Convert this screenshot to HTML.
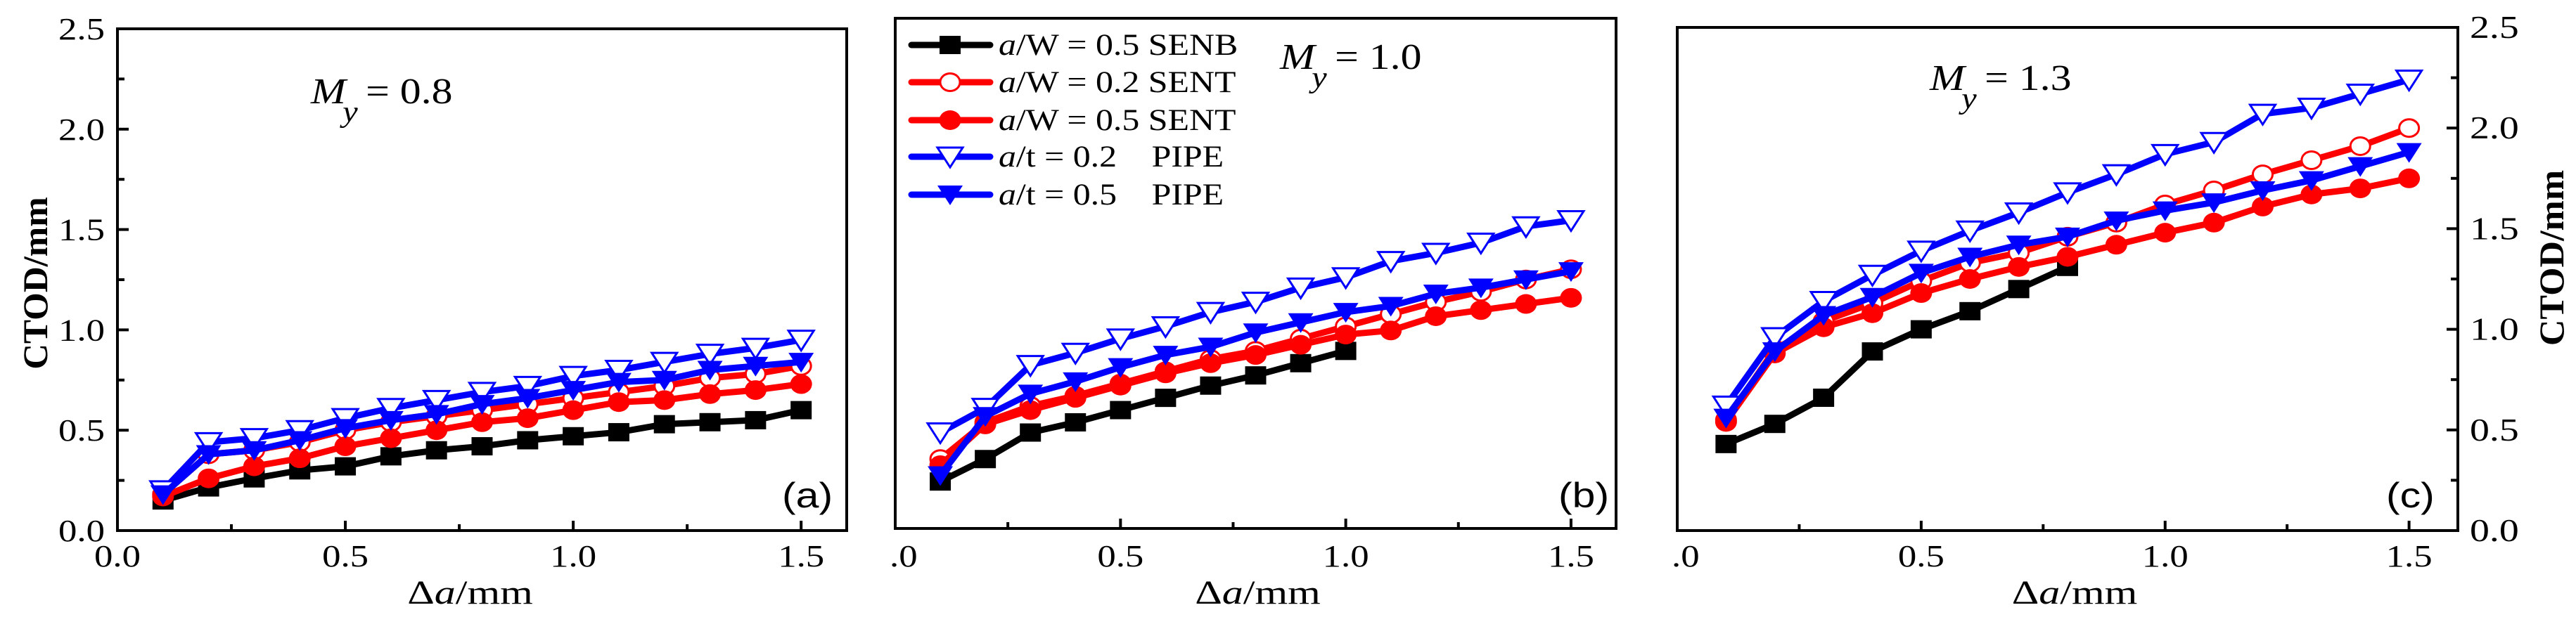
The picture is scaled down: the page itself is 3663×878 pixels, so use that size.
<!DOCTYPE html>
<html><head><meta charset="utf-8"><style>
html,body{margin:0;padding:0;background:#fff;}
svg{display:block;}
</style></head><body>
<svg id="chart" width="3663" height="878" viewBox="0 0 3663 878" xmlns="http://www.w3.org/2000/svg" font-family="'Liberation Serif', serif"></svg>
<script>
const xValues = [0.1,0.2,0.3,0.4,0.5,0.6,0.7,0.8,0.9,1.0,1.1,1.2,1.3,1.4,1.5];
const xTickLabels = ["0.0","0.5","1.0","1.5"];
const yTickLabels = ["0.0","0.5","1.0","1.5","2.0","2.5"];
const seriesNames = ["a/W = 0.5 SENB","a/W = 0.2 SENT","a/W = 0.5 SENT","a/t = 0.2 PIPE","a/t = 0.5 PIPE"];
// panel (a) My=0.8
const aSENB05 = [0.15,0.215,0.26,0.30,0.32,0.37,0.40,0.42,0.45,0.47,0.49,0.53,0.54,0.55,0.60];
const aSENT02 = [0.18,0.38,0.40,0.44,0.50,0.54,0.57,0.60,0.63,0.66,0.69,0.72,0.76,0.78,0.82];
const aSENT05 = [0.17,0.26,0.32,0.36,0.42,0.46,0.50,0.54,0.56,0.60,0.64,0.65,0.68,0.70,0.73];
const aPIPE02 = [0.20,0.44,0.46,0.50,0.56,0.61,0.65,0.69,0.72,0.77,0.80,0.84,0.88,0.91,0.95];
const aPIPE05 = [0.18,0.38,0.40,0.45,0.51,0.55,0.58,0.63,0.66,0.70,0.74,0.75,0.80,0.82,0.84];
// panel (b) My=1.0
const bSENB05 = [0.23,0.34,0.47,0.52,0.58,0.64,0.70,0.75,0.81,0.87];
const bSENT02 = [0.34,0.52,0.60,0.65,0.71,0.77,0.83,0.87,0.93,0.99,1.05,1.11,1.16,1.22,1.27];
const bSENT05 = [0.31,0.51,0.58,0.64,0.70,0.76,0.81,0.85,0.90,0.95,0.97,1.04,1.07,1.10,1.13];
const bPIPE02 = [0.47,0.59,0.80,0.86,0.93,0.99,1.06,1.11,1.18,1.23,1.31,1.35,1.40,1.48,1.51];
const bPIPE05 = [0.26,0.55,0.66,0.72,0.79,0.85,0.89,0.96,1.01,1.06,1.09,1.15,1.18,1.22,1.26];
// panel (c) My=1.3
const cSENB05 = [0.43,0.53,0.66,0.89,1.00,1.09,1.20,1.31];
const cSENT02 = [0.55,0.90,1.04,1.13,1.24,1.33,1.38,1.46,1.53,1.62,1.69,1.77,1.84,1.91,2.00];
const cSENT05 = [0.54,0.88,1.01,1.08,1.18,1.25,1.31,1.36,1.42,1.48,1.53,1.61,1.67,1.70,1.75];
const cPIPE02 = [0.62,0.96,1.14,1.27,1.39,1.49,1.58,1.68,1.77,1.87,1.93,2.07,2.10,2.17,2.24];
const cPIPE05 = [0.56,0.89,1.07,1.16,1.28,1.36,1.42,1.46,1.54,1.59,1.63,1.69,1.74,1.81,1.88];

const NS="http://www.w3.org/2000/svg";
const svg=document.getElementById('chart');
function mk(tag,attrs,parent){const e=document.createElementNS(NS,tag);for(const k in attrs)e.setAttribute(k,attrs[k]);(parent||svg).appendChild(e);return e;}
const styles=[
 {color:"#000",marker:"square",fill:"#000"},
 {color:"#f00",marker:"circle",fill:"#fff"},
 {color:"#f00",marker:"circle",fill:"#f00"},
 {color:"#00f",marker:"tri",fill:"#fff"},
 {color:"#00f",marker:"tri",fill:"#00f"}];
function marker(g,type,cx,cy,color,fill){
  let e;
  if(type==="square"){e=mk('rect',{x:cx-15,y:cy-13,width:30,height:26,fill:color},g);}
  else if(type==="circle"){e=mk('ellipse',{cx:cx,cy:cy,rx:fill==="#fff"?14:15.5,ry:fill==="#fff"?12.5:14,fill:fill,stroke:color,'stroke-width':fill==="#fff"?3:0},g);}
  else {e=mk('polygon',{points:`${cx-18},${cy-13} ${cx+18},${cy-13} ${cx},${cy+15}`,fill:fill,stroke:color,'stroke-width':fill==="#fff"?3:0},g);}
  
  
}
function txt(s,x,y,size,opts,parent){
  opts=opts||{};
  const sx=opts.sx||1.2;
  const t=mk('text',{x:0,y:0,'font-size':size,'text-anchor':opts.anchor||'start',transform:`translate(${x},${y}) ${opts.rot?'rotate(-90)':''} scale(${sx},1)`,'font-style':opts.italic?'italic':'normal','font-weight':opts.bold?'bold':'normal','font-family':opts.sans?"'Liberation Sans', sans-serif":"'Liberation Serif', serif"},parent);
  t.textContent=s;
  
  
  return t;
}
const panels=[
 {id:'a',l:167,r:1204,t:41,b:755,data:[aSENB05,aSENT02,aSENT05,aPIPE02,aPIPE05],yl:'left',xfirst:'0.0',my:'0.8',mx:442,mb:147,lab:[1112,722]},
 {id:'b',l:1273,r:2298,t:26,b:752,data:[bSENB05,bSENT02,bSENT05,bPIPE02,bPIPE05],yl:'none',xfirst:'.0',my:'1.0',mx:1820,mb:98,lab:[2216,722]},
 {id:'c',l:2385,r:3495,t:39,b:755,data:[cSENB05,cSENT02,cSENT05,cPIPE02,cPIPE05],yl:'right',xfirst:'.0',my:'1.3',mx:2744,mb:128,lab:[3393,722]}];
panels.forEach(p=>{
  const g=mk('g',{});
  
  
  const X=v=>p.l+(v/1.6)*(p.r-p.l);
  const Y=v=>p.b-(v/2.5)*(p.b-p.t);
  const fr=mk('rect',{x:p.l,y:p.t,width:p.r-p.l,height:p.b-p.t,fill:'none',stroke:'#000','stroke-width':4},g);
  
  
  for(let i=1;i<=6;i++){const v=i*0.25;const x=X(v);const major=i%2===0;
    mk('line',{x1:x,x2:x,y1:p.b,y2:p.b-(major?14:9),stroke:'#000','stroke-width':4},g);}
  xTickLabels.forEach((s,i)=>{const v=i*0.5;
    if(i===0){ if(p.xfirst==='0.0') txt(s,X(v),806,44,{anchor:'middle',name:'x-tick-label'},g); else txt(p.xfirst,X(v)-8,806,44,{name:'x-tick-label'},g);}
    else txt(s,X(v),806,44,{anchor:'middle',name:'x-tick-label'},g);});
  const xt=mk('text',{x:0,y:0,'font-size':48,'text-anchor':'middle',transform:`translate(${(p.l+p.r)/2+ (p.id==='a'?-17:p.id==='b'?3:10)},859) scale(1.25,1)`},g);
  
  
  xt.innerHTML='Δ<tspan font-style="italic">a</tspan>/mm';
  if(p.yl!=='none'){
    const ax=p.yl==='left'?p.l:p.r, dir=p.yl==='left'?1:-1;
    for(let i=1;i<10;i++){const y=Y(i*0.25);const major=i%2===0;
      mk('line',{x1:ax,x2:ax+dir*(major?16:10),y1:y,y2:y,stroke:'#000','stroke-width':4},g);}
    yTickLabels.forEach((s,i)=>{const y=Y(i*0.5)+15;
      if(p.yl==='left') txt(s,149,y,44,{anchor:'end',name:'y-tick-label'},g);
      else txt(s,3512,y,45,{name:'y-tick-label',sx:1.24},g);});
    if(p.yl==='left') txt('CTOD/mm',67,403,50,{anchor:'middle',rot:true,bold:true,sx:1.02,name:'y-axis-title'},g);
    else txt('CTOD/mm',3645,367,50,{anchor:'middle',rot:true,bold:true,sx:1.04,name:'y-axis-title-right'},g);
  }
  p.data.forEach((arr,si)=>{
    const st=styles[si];
    const sg=mk('g',{},g);
    
    
    const pts=arr.map((v,i)=>X(xValues[i])+','+Y(v)).join(' ');
    mk('polyline',{points:pts,fill:'none',stroke:st.color,'stroke-width':9,'stroke-linejoin':'round'},sg);
    arr.forEach((v,i)=>marker(sg,st.marker,X(xValues[i]),Y(v),st.color,st.fill));
  });
  const ml=mk('text',{x:0,y:0,'font-size':52,transform:`translate(${p.mx},${p.mb}) scale(1.15,1)`},g);
  
  
  ml.innerHTML=`<tspan font-style="italic">M</tspan><tspan font-style="italic" font-size="42" dy="26" dx="-4">y</tspan><tspan dy="-26" dx="10">= ${p.my}</tspan>`;
  txt('('+p.id+')',p.lab[0],p.lab[1],50,{sans:true,sx:1.18,name:'panel-label'},g);
});
const lg=mk('g',{});


const rows=[64,117,171,223,277];
const legendText=['<tspan font-style="italic">a</tspan>/W = 0.5 SENB','<tspan font-style="italic">a</tspan>/W = 0.2 SENT','<tspan font-style="italic">a</tspan>/W = 0.5 SENT','<tspan font-style="italic">a</tspan>/t = 0.2 <tspan dx="32">PIPE</tspan>','<tspan font-style="italic">a</tspan>/t = 0.5 <tspan dx="32">PIPE</tspan>'];
rows.forEach((y,i)=>{
  const e=mk('g',{},lg);
  
  
  const st=styles[i];
  mk('line',{x1:1296,x2:1408,y1:y,y2:y,stroke:st.color,'stroke-width':9,'stroke-linecap':'round'},e);
  marker(e,st.marker,1351,y,st.color,st.fill);
  const t=mk('text',{x:0,y:0,'font-size':43,transform:`translate(1420,${y+14}) scale(1.16,1)`},e);
  
  
  t.innerHTML=legendText[i];
});
</script>
</body></html>
